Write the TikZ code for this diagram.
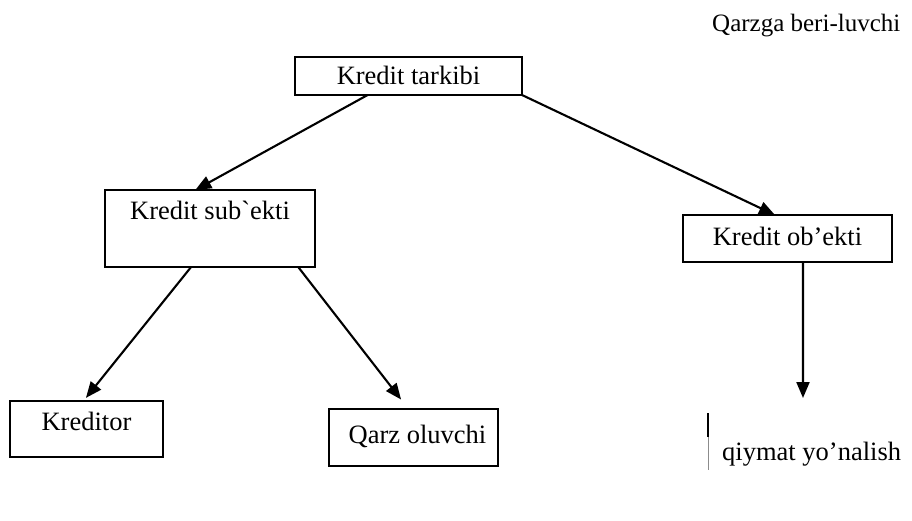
\documentclass[tikz,border=0pt]{standalone}
\usepackage{fontspec}
\newfontfamily\diagfont{Liberation Serif}
\usetikzlibrary{arrows.meta,calc}
\begin{document}
\begin{tikzpicture}[x=1pt,y=-1pt,
  every node/.style={font=\diagfont\fontsize{26.5}{31}\selectfont},
  box/.style={draw,line width=2.8pt,inner xsep=0pt,inner ysep=0pt,outer sep=0pt},
  link/.style={line width=2.1pt,-{Triangle[length=16pt,width=13pt]}}]
\useasboundingbox (0,0) rectangle (912,521);

% boxes
\node[box,minimum width=227,minimum height=38,text height=28,text depth=10] (tarkibi) at (408.5,76) {Kredit tarkibi};
\node[box,minimum width=210,minimum height=77,text height=30,text depth=47] (sube) at (210,228.5) {Kredit sub`ekti};
\node[box,minimum width=209,minimum height=47,text height=30,text depth=17] (obe) at (787.5,238.5) {Kredit ob’ekti};
\node[box,minimum width=153,minimum height=56,text height=29,text depth=27] (kreditor) at (86.5,429) {Kreditor};
\node[box,minimum width=169,minimum height=57,text height=34,text depth=23] (qarz) at (413.5,437.5) {\hspace*{8pt}Qarz oluvchi};

% free texts
\node[anchor=base west,inner sep=0pt,font=\diagfont\fontsize{25}{30}\selectfont] (beruvchi) at (712,32) {Qarzga beri-luvchi};
\node[anchor=base west,inner sep=0pt] (qiymat) at (722,460) {qiymat yo’nalish};

% connectors
\draw[link] ($(tarkibi.south west)!0.32!(tarkibi.south east)$) -- ($(sube.north west)!0.43!(sube.north east)$);
\draw[link] (tarkibi.south east) -- ($(obe.north west)!0.44!(obe.north east)$);
\draw[link,shorten >=4pt] ($(sube.south west)!0.41!(sube.south east)$) -- ($(kreditor.north west)!0.48!(kreditor.north east)$);
\draw[link,shorten >=12pt] ($(sube.south west)!0.92!(sube.south east)$) -- ($(qarz.north west)!0.47!(qarz.north east)$);
\coordinate (tipq) at (803,398);
\draw[link] ($(obe.south west)!0.574!(obe.south east)$) -- (tipq);

% cursor mark before the last text
\coordinate (markA) at (708,413);
\coordinate (markB) at (708,437);
\coordinate (markC) at (708,470);
\draw[line width=1.8pt] (markA) -- (markB);
\draw[line width=0.9pt,black!45] (markB) -- (markC);
\end{tikzpicture}
\end{document}
